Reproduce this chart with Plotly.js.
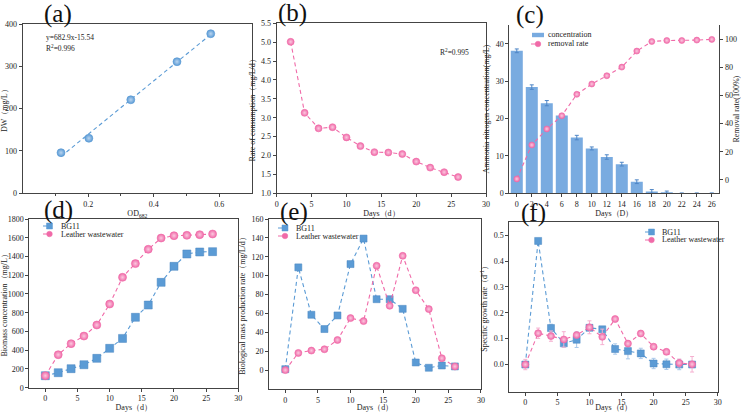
<!DOCTYPE html>
<html>
<head>
<meta charset="utf-8">
<script src="https://cdn.plot.ly/plotly-3.0.1.min.js"></script>
<style>html,body{margin:0;padding:0;background:#fff;}</style>
</head>
<body>
<div id="chart" style="width:741px;height:412px"></div>
<script>
// (a) calibration: optical density vs dry weight
const odValues = [0.117, 0.202, 0.330, 0.471, 0.574];
const dwValues = [96, 130, 221, 311, 377];

// (b) ammonia nitrogen consumption rate
const consumptionDays = [2, 4, 6, 8, 10, 12, 14, 16, 18, 20, 22, 24, 26];
const consumptionRate = [5.01, 3.13, 2.72, 2.75, 2.48, 2.25, 2.09, 2.08, 2.04, 1.84, 1.68, 1.56, 1.43];

// (c) ammonia nitrogen concentration and removal rate
const ammoniaDays = [0, 2, 4, 6, 8, 10, 12, 14, 16, 18, 20, 22, 24, 26];
const ammoniaConc = [38.1, 28.4, 24.1, 20.8, 14.9, 12.0, 9.7, 7.8, 3.1, 0.5, 0.3, 0, 0, 0];
const ammoniaErr  = [0.5, 0.6, 0.7, 0.3, 0.6, 0.4, 0.6, 0.5, 0.5, 0.5, 0.3, 0.1, 0.1, 0.1];
const removalRate = [0.7, 24.8, 36.2, 45.6, 60.8, 68.1, 74.0, 80.1, 91.5, 98.3, 99.0, 99.0, 99.3, 99.8];

// (d)-(f) growth experiments
const growthDays = [0, 2, 4, 6, 8, 10, 12, 14, 16, 18, 20, 22, 24, 26];
const biomassBG11    = [128, 160, 203, 245, 313, 420, 526, 751, 882, 1124, 1295, 1427, 1448, 1452];
const biomassLeather = [128, 352, 470, 551, 669, 893, 1178, 1324, 1477, 1597, 1622, 1626, 1633, 1640];
const productionBG11    = [1, 108.8, 58.6, 43.5, 57.9, 112.3, 139.3, 75.1, 75.1, 64.9, 8.1, 2.5, 4.9, 3.9];
const productionLeather = [0, 18.2, 20.7, 22.1, 31.9, 55.1, 51.9, 110.5, 68.1, 121, 84.6, 64.6, 12.6, 3.9];
const muBG11       = [0, 0.478, 0.141, 0.082, 0.096, 0.142, 0.136, 0.060, 0.052, 0.043, 0.004, 0.001, 0, 0];
const muBG11Err    = [0.01, 0.01, 0.015, 0.015, 0.03, 0.01, 0.01, 0.02, 0.03, 0.02, 0.02, 0.02, 0.02, 0.01];
const muLeather    = [0, 0.121, 0.110, 0.097, 0.114, 0.144, 0.107, 0.176, 0.081, 0.120, 0.069, 0.049, 0.006, 0.001];
const muLeatherErr = [0.02, 0.02, 0.02, 0.03, 0.01, 0.025, 0.03, 0.01, 0.01, 0.01, 0.01, 0.01, 0.015, 0.03];

// series names
const seriesNames = ['BG11', 'Leather wastewater'];
const ammoniaNames = ['concentration', 'removal rate'];

const W = 741, H = 412;
const BLUE = '#5b9bd5';
const BLUE_LIGHT = '#b9d4ef';
const PINK = '#f06aa8';
const PINK_LIGHT = '#fbc8df';
const BAR = '#79abe0';
const SERIF = 'Liberation Serif, Times New Roman, serif';

// least-squares fit line for the calibration points
function linearFit(xs, ys) {
  const n = xs.length;
  const mx = xs.reduce((a, b) => a + b, 0) / n;
  const my = ys.reduce((a, b) => a + b, 0) / n;
  let sxy = 0, sxx = 0;
  for (let i = 0; i < n; i++) { sxy += (xs[i] - mx) * (ys[i] - my); sxx += (xs[i] - mx) ** 2; }
  const slope = sxy / sxx;
  return { slope, intercept: my - slope * mx };
}
const fit = linearFit(odValues, dwValues);
const fitX = [Math.min(...odValues), Math.max(...odValues)];
const fitY = fitX.map(x => fit.slope * x + fit.intercept);

const ball = (color, light, size) => ({
  symbol: 'circle', size: size, color: color,
  gradient: { type: 'radial', color: light },
  line: { width: 0.6, color: color }
});
const square = (size) => ({ symbol: 'square', size: size, color: BLUE, line: { width: 0.5, color: '#4a86c0' } });
const dashed = (color) => ({ color: color, width: 1.1, dash: '4px,3px' });

const traces = [
  // (a)
  { x: fitX, y: fitY, xaxis: 'x', yaxis: 'y', mode: 'lines', line: dashed(BLUE) },
  { x: odValues, y: dwValues, xaxis: 'x', yaxis: 'y', mode: 'markers', marker: ball(BLUE, BLUE_LIGHT, 8) },
  // (b)
  { x: consumptionDays, y: consumptionRate, xaxis: 'x2', yaxis: 'y2', mode: 'lines+markers',
    line: dashed(PINK), marker: ball(PINK, PINK_LIGHT, 7) },
  // (c)
  { x: ammoniaDays, y: ammoniaConc, xaxis: 'x3', yaxis: 'y3', type: 'bar', name: ammoniaNames[0],
    width: 1.6, marker: { color: BAR, line: { width: 0 } },
    error_y: { type: 'data', array: ammoniaErr, color: '#4f86c6', thickness: 1, width: 2 } },
  { x: ammoniaDays, y: removalRate, xaxis: 'x3', yaxis: 'y7', mode: 'lines+markers', name: ammoniaNames[1],
    line: dashed(PINK), marker: ball(PINK, PINK_LIGHT, 6) },
  // (d)
  { x: growthDays, y: biomassBG11, xaxis: 'x4', yaxis: 'y4', mode: 'lines+markers', name: seriesNames[0],
    line: dashed(BLUE), marker: square(8) },
  { x: growthDays, y: biomassLeather, xaxis: 'x4', yaxis: 'y4', mode: 'lines+markers', name: seriesNames[1],
    line: dashed(PINK), marker: ball(PINK, PINK_LIGHT, 8) },
  // (e)
  { x: growthDays, y: productionBG11, xaxis: 'x5', yaxis: 'y5', mode: 'lines+markers', name: seriesNames[0],
    line: dashed(BLUE), marker: square(7) },
  { x: growthDays, y: productionLeather, xaxis: 'x5', yaxis: 'y5', mode: 'lines+markers', name: seriesNames[1],
    line: dashed(PINK), marker: ball(PINK, PINK_LIGHT, 7) },
  // (f)
  { x: growthDays, y: muBG11, xaxis: 'x6', yaxis: 'y6', mode: 'lines+markers', name: seriesNames[0],
    line: dashed(BLUE), marker: square(7),
    error_y: { type: 'data', array: muBG11Err, color: '#a9c8ea', thickness: 1, width: 2 } },
  { x: growthDays, y: muLeather, xaxis: 'x6', yaxis: 'y6', mode: 'lines+markers', name: seriesNames[1],
    line: dashed(PINK), marker: ball(PINK, PINK_LIGHT, 7),
    error_y: { type: 'data', array: muLeatherErr, color: '#f5b0d0', thickness: 1, width: 2 } }
];
traces.forEach(t => { t.showlegend = false; });

const tickFont = { family: SERIF, size: 8, color: '#222' };
const titleFont = { family: SERIF, size: 8, color: '#222' };
function ax(extra) {
  return Object.assign({
    showline: true, linecolor: '#444', linewidth: 1, mirror: true,
    ticks: 'outside', ticklen: 3, tickwidth: 1, tickcolor: '#444',
    showgrid: false, zeroline: false, tickfont: tickFont, automargin: false
  }, extra);
}
function ttl(text, standoff) { return { text: text, font: titleFont, standoff: standoff || 4 }; }
function label(text, px, py) {
  return { text: text, xref: 'paper', yref: 'paper', x: px / W, y: 1 - py / H,
    xanchor: 'center', yanchor: 'middle', showarrow: false,
    font: { family: SERIF, size: 25, color: '#111' } };
}
function note(text, px, py) {
  return { text: text, xref: 'paper', yref: 'paper', x: px / W, y: 1 - py / H,
    xanchor: 'left', yanchor: 'middle', showarrow: false,
    font: { family: SERIF, size: 7.5, color: '#222' } };
}

// compact legend keys drawn as paper-positioned shapes and labels
const legendShapes = [];
const legendNotes = [];
function legendKey(kind, color, text, lineX0, lineX1, py, textX) {
  const yy = 1 - py / H;
  const mx = (lineX0 + lineX1) / 2 / W;
  const px = (v) => v / W;
  if (kind === 'bar') {
    legendShapes.push({ type: 'rect', xref: 'paper', yref: 'paper', x0: px(lineX0), x1: px(lineX1),
      ysizemode: 'pixel', yanchor: yy, y0: -2.2, y1: 2.2, fillcolor: color, line: { width: 0 } });
  } else {
    legendShapes.push({ type: 'line', xref: 'paper', yref: 'paper', x0: px(lineX0), x1: px(lineX1), y0: yy, y1: yy,
      line: { color: color, width: 1, dash: 'dash' } });
    const r = kind === 'square' ? 3 : 2.8;
    legendShapes.push({ type: kind === 'square' ? 'rect' : 'circle', xref: 'paper', yref: 'paper',
      xsizemode: 'pixel', ysizemode: 'pixel', xanchor: mx, yanchor: yy, x0: -r, x1: r, y0: -r, y1: r,
      fillcolor: color, line: { color: color, width: 0.5 } });
  }
  legendNotes.push({ text: text, xref: 'paper', yref: 'paper', x: px(textX), y: yy,
    xanchor: 'left', yanchor: 'middle', showarrow: false,
    font: { family: SERIF, size: 8, color: '#222' } });
}
legendKey('bar', BAR, ammoniaNames[0], 532, 544, 35, 546);
legendKey('circle', PINK, ammoniaNames[1], 531, 545, 44, 546);
legendKey('square', BLUE, seriesNames[0], 43, 56, 226, 59);
legendKey('circle', PINK, seriesNames[1], 43, 56, 234, 59);
legendKey('square', BLUE, seriesNames[0], 278, 292, 228, 294);
legendKey('circle', PINK, seriesNames[1], 278, 292, 236, 294);
legendKey('square', BLUE, seriesNames[0], 645, 658, 232, 660);
legendKey('circle', PINK, seriesNames[1], 645, 658, 240, 660);

const layout = {
  width: W, height: H,
  margin: { l: 0, r: 0, t: 0, b: 0 },
  paper_bgcolor: '#fff', plot_bgcolor: '#fff',
  font: { family: SERIF },
  showlegend: false,
  // (a)
  xaxis:  ax({ domain: [0.0306, 0.3401], range: [0, 0.7], tickvals: [0.2, 0.4, 0.6], ticktext: ['0.2', '0.4', '0.6'],
               anchor: 'y', title: ttl('OD<sub>682</sub>', 2),
               minor: { tickvals: [0.1, 0.3, 0.5], ticks: 'outside', ticklen: 2, tickcolor: '#444' } }),
  yaxis:  ax({ domain: [0.5308, 0.9417], range: [0, 400], dtick: 100, anchor: 'x', title: ttl('DW（mg/L）') }),
  // (b)
  xaxis2: ax({ domain: [0.3734, 0.6559], range: [0, 30], dtick: 5, anchor: 'y2', title: ttl('Days（d）', 2) }),
  yaxis2: ax({ domain: [0.5308, 0.9434], range: [1.0, 5.5], dtick: 0.5, tickformat: '.1f', anchor: 'x2',
               title: ttl('Rate of consumption（mg/L/d）') }),
  // (c)
  xaxis3: ax({ domain: [0.6873, 0.9707], range: [-1, 27], tickvals: ammoniaDays, anchor: 'y3', mirror: false,
               title: ttl('Days（D）', 2) }),
  yaxis3: ax({ domain: [0.5308, 0.9393], range: [0, 45], dtick: 10, anchor: 'x3', mirror: false,
               title: ttl('Ammonia nitrogen concentration(mg/L)') }),
  yaxis7: ax({ domain: [0.5308, 0.9393], range: [-9.5, 110], tickvals: [0, 20, 40, 60, 80, 100], anchor: 'x3',
               overlaying: 'y3', side: 'right', mirror: false, title: ttl('Removal rate(100%)') }),
  // (d)
  xaxis4: ax({ domain: [0.0395, 0.3216], range: [-2.5, 30], dtick: 5, anchor: 'y4', title: ttl('Days（d）', 2) }),
  yaxis4: ax({ domain: [0.0590, 0.4684], range: [0, 1800], dtick: 200, anchor: 'x4',
               title: ttl('Biomass concentration（mg/L）') }),
  // (e)
  xaxis5: ax({ domain: [0.3630, 0.6491], range: [-2.5, 30], dtick: 5, anchor: 'y5', title: ttl('Days（d）', 2) }),
  yaxis5: ax({ domain: [0.0558, 0.4684], range: [-20, 160], tickvals: [0, 20, 40, 60, 80, 100, 120, 140, 160], anchor: 'x5',
               title: ttl('Biological mass production rate（mg/L/d）') }),
  // (f)
  xaxis6: ax({ domain: [0.6873, 0.9686], range: [-2.5, 30], dtick: 5, anchor: 'y6', title: ttl('Days（d）', 2) }),
  yaxis6: ax({ domain: [0.0493, 0.4604], range: [-0.105, 0.55], tickvals: [0, 0.1, 0.2, 0.3, 0.4, 0.5], tickformat: '.1f',
               anchor: 'x6', title: ttl('Specific growth rate（d<sup>-1</sup>）') }),
  shapes: legendShapes,
  annotations: [
    label('(a)', 58, 14), label('(b)', 292, 13), label('(c)', 530, 15),
    label('(d)', 58, 210), label('(e)', 294, 212), label('(f)', 533, 213),
    note('y=682.9x-15.54', 44, 38), note('R<sup>2</sup>=0.996', 44, 48),
    note('R<sup>2</sup>=0.995', 438, 52)
  ].concat(legendNotes)
};

Plotly.newPlot('chart', traces, layout, { displayModeBar: false, staticPlot: true });
</script>
</body>
</html>
